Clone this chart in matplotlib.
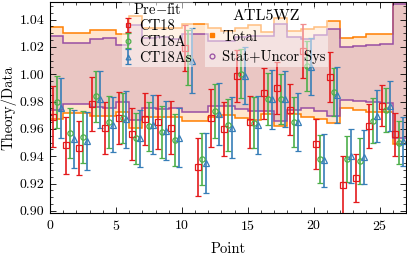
import numpy as np
import matplotlib
matplotlib.use('Agg')
import matplotlib.pyplot as plt
from matplotlib.lines import Line2D

plt.rcParams['font.family'] = 'serif'
plt.rcParams['font.serif'] = ['cmr10']
plt.rcParams['mathtext.fontset'] = 'cm'
plt.rcParams['axes.formatter.use_mathtext'] = True
plt.rcParams['axes.unicode_minus'] = False

# data points, one per bin
points = np.arange(27)

ct18 = [0.969, 0.948, 0.946, 0.978, 0.961, 0.968, 0.956, 0.967, 0.965, 0.961,
        1.019, 0.932, 0.968, 0.960, 0.999, 0.965, 0.986, 0.990, 0.974, 1.017,
        0.949, 0.998, 0.919, 0.924, 0.962, 0.977, 0.956]
ct18_err = [0.0225, 0.021, 0.020, 0.0196, 0.019, 0.019, 0.019, 0.019, 0.0195, 0.0193,
            0.017, 0.0213, 0.021, 0.020, 0.019, 0.019, 0.0184, 0.019, 0.0186, 0.0198,
            0.0186, 0.0186, 0.021, 0.0176, 0.016, 0.015, 0.0155]

ct18a = [0.980, 0.957, 0.954, 0.984, 0.965, 0.968, 0.953, 0.962, 0.958, 0.952,
         1.012, 0.938, 0.973, 0.963, 1.0005, 0.9645, 0.982, 0.982, 0.965, 1.006,
         0.938, 0.987, 0.938, 0.9365, 0.966, 0.974, 0.950]
ct18a_err = [0.019, 0.0186, 0.019, 0.0186, 0.019, 0.0186, 0.0187, 0.018, 0.019, 0.019,
             0.020, 0.019, 0.0195, 0.019, 0.018, 0.0187, 0.019, 0.0183, 0.018, 0.0185,
             0.0175, 0.0174, 0.017, 0.0165, 0.0164, 0.016, 0.016]

ct18as = [0.975, 0.9525, 0.951, 0.9815, 0.963, 0.967, 0.953, 0.963, 0.9586, 0.9535,
          1.010, 0.935, 0.971, 0.961, 0.999, 0.963, 0.9815, 0.9817, 0.965, 1.0055,
          0.937, 0.985, 0.940, 0.9396, 0.9695, 0.9766, 0.951]
ct18as_err = [0.022, 0.021, 0.021, 0.021, 0.020, 0.021, 0.021, 0.0215, 0.0215, 0.0216,
              0.0235, 0.0222, 0.0227, 0.022, 0.021, 0.021, 0.0213, 0.0204, 0.021, 0.021,
              0.0195, 0.0205, 0.0198, 0.0197, 0.0193, 0.0185, 0.018]

# relative data uncertainties per bin
total_err = [0.0335, 0.0295, 0.0295, 0.0316, 0.0316, 0.0288, 0.0407, 0.0327, 0.0327, 0.0327,
             0.0356, 0.0356, 0.0327, 0.0309, 0.0330, 0.0348, 0.0301, 0.0392, 0.0303, 0.0322,
             0.0335, 0.0373, 0.0257, 0.0265, 0.0284, 0.0284, 0.054]
stat_err = [0.027, 0.0225, 0.0225, 0.0248, 0.0255, 0.021, 0.035, 0.0257, 0.0263, 0.0252,
            0.0288, 0.0288, 0.024, 0.024, 0.0263, 0.0275, 0.0275, 0.0356, 0.0265, 0.0252,
            0.0279, 0.0317, 0.0194, 0.0199, 0.0207, 0.0215, 0.049]

red, green, blue = '#e41a1c', '#4daf4a', '#377eb8'
orange, purple = '#ff7f00', '#984ea3'

fig = plt.figure(figsize=(4.07, 2.60), dpi=100)
ax = fig.add_axes([0.1229, 0.1808, 0.8747, 0.8115])

edges = np.arange(len(points) + 1)
tot = np.array(total_err)
st = np.array(stat_err)
tot_hi, tot_lo = 1 / (1 - tot), 1 / (1 + tot)
st_hi, st_lo = 1 / (1 - st), 1 / (1 + st)

ax.stairs(tot_hi, edges, baseline=tot_lo, fill=True, color=orange, alpha=0.2, lw=0)
ax.stairs(st_hi, edges, baseline=st_lo, fill=True, color=purple, alpha=0.2, lw=0)
for arr in (tot_hi, tot_lo):
    ax.stairs(arr, edges, baseline=None, color=orange, lw=1.1)
for arr in (st_hi, st_lo):
    ax.stairs(arr, edges, baseline=None, color=purple, lw=1.1)

kw = dict(mfc='none', ms=3.8, mew=0.9, capsize=2.5, elinewidth=1.2, capthick=1.2, ls='none')
e1 = ax.errorbar(points + 0.2, ct18, yerr=ct18_err, fmt='s', color=red, **kw)
e2 = ax.errorbar(points + 0.5, ct18a, yerr=ct18a_err, fmt='o', color=green, **kw)
e3 = ax.errorbar(points + 0.8, ct18as, yerr=ct18as_err, fmt='^', color=blue, **kw)

ax.set_xlim(0, 27)
ax.set_ylim(0.8985, 1.0528)
ax.set_yticks(np.arange(0.90, 1.041, 0.02))
ax.set_yticks(np.arange(0.90, 1.052, 0.005), minor=True)
ax.set_xticks([0, 5, 10, 15, 20, 25])
ax.set_xticks(np.arange(0, 28, 1), minor=True)
ax.yaxis.set_major_formatter(matplotlib.ticker.FormatStrFormatter('%.2f'))
ax.tick_params(which='both', direction='in', top=True, right=True, labelsize=10)
ax.tick_params(which='major', length=4, width=0.6, pad=4)
ax.tick_params(which='minor', length=2, width=0.5)
for s in ax.spines.values():
    s.set_linewidth(0.8)

ax.set_xlabel('Point', fontsize=10.5, labelpad=7)
ax.set_ylabel('Theory/Data', fontsize=10.5, labelpad=2)

leg1 = ax.legend([e1, e2, e3], ['CT18', 'CT18A', 'CT18As'], title='Pre$-$fit',
                 loc='upper left', bbox_to_anchor=(0.202, 1.01), fontsize=10.5,
                 title_fontsize=10.5, frameon=True, framealpha=0.5, edgecolor='none',
                 fancybox=False, handlelength=0.6, handletextpad=0.4,
                 borderpad=0.15, labelspacing=0.15, borderaxespad=0.0,
                 markerscale=0.9)
ax.add_artist(leg1)

h_tot = Line2D([], [], ls='none', marker='s', ms=3, color=orange)
h_st = Line2D([], [], ls='none', marker='o', ms=3.5, mfc='none', mew=0.9, color=purple)
ax.legend([h_tot, h_st], ['Total', 'Stat+Uncor Sys'], title='ATL5WZ',
          loc='upper left', bbox_to_anchor=(0.43, 0.985), fontsize=10.5,
          title_fontsize=11.5, frameon=True, framealpha=0.5, edgecolor='none',
          fancybox=False, handlelength=0.6, handletextpad=0.4,
          borderpad=0.2, labelspacing=0.45, borderaxespad=0.1)

fig.savefig('out.png', dpi=100)
